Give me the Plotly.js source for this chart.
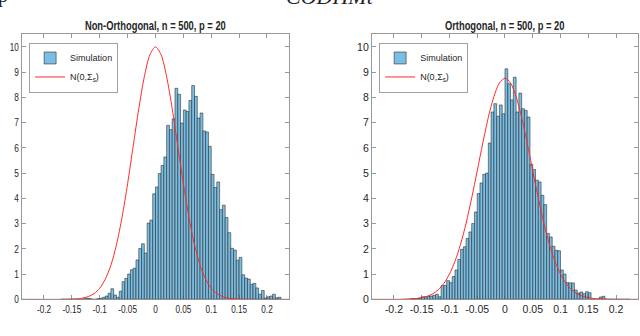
<!DOCTYPE html>
<html>
<head>
<meta charset="utf-8">
<script src="https://cdn.plot.ly/plotly-3.0.1.min.js"></script>
<style>
  html, body { margin: 0; padding: 0; background: #fff; }
  #chart { width: 640px; height: 336px; }
</style>
</head>
<body>
<div id="chart"></div>
<script>
var FONT = "'Liberation Sans', Arial, sans-serif";
var TEXT_COLOR = "#262626";
var SQUEEZE = 0.78; // the source figure is a bit narrower than it is tall

// histogram bin centres (bin width 0.005), shared by both panels
var binCenters = [
  -0.1675, -0.1625, -0.1575, -0.1525, -0.1475, -0.1425, -0.1375, -0.1325, -0.1275, -0.1225,
  -0.1175, -0.1125, -0.1075, -0.1025, -0.0975, -0.0925, -0.0875, -0.0825, -0.0775, -0.0725,
  -0.0675, -0.0625, -0.0575, -0.0525, -0.0475, -0.0425, -0.0375, -0.0325, -0.0275, -0.0225,
  -0.0175, -0.0125, -0.0075, -0.0025, 0.0025, 0.0075, 0.0125, 0.0175, 0.0225, 0.0275,
  0.0325, 0.0375, 0.0425, 0.0475, 0.0525, 0.0575, 0.0625, 0.0675, 0.0725, 0.0775,
  0.0825, 0.0875, 0.0925, 0.0975, 0.1025, 0.1075, 0.1125, 0.1175, 0.1225, 0.1275,
  0.1325, 0.1375, 0.1425, 0.1475, 0.1525, 0.1575, 0.1625, 0.1675, 0.1725, 0.1775,
  0.1825, 0.1875, 0.1925, 0.1975, 0.2025, 0.2075, 0.2125, 0.2175, 0.2225
];

var nonOrthHeights = [
  0, 0, 0, 0, 0, 0, 0, 0, 0.02, 0.04,
  0.03, 0, 0, 0.03, 0.04, 0.08, 0.13, 0.24, 0.42, 0.17,
  0.08, 0.32, 0.7, 0.83, 1.0, 1.17, 1.23, 1.56, 2.01, 2.2,
  1.83, 3.02, 3.14, 4.18, 4.45, 4.98, 5.3, 5.64, 6.89, 6.72,
  7.15, 8.36, 8.12, 6.98, 7.5, 7.44, 7.88, 8.47, 8.04, 7.18,
  7.38, 6.67, 6.63, 6.06, 4.95, 4.43, 4.65, 3.55, 3.73, 3.24,
  2.64, 2.02, 1.95, 1.55, 1.66, 0.97, 0.84, 0.8, 0.6, 0.63,
  0.45, 0.2, 0.35, 0.05, 0.1, 0.13, 0.2, 0.06, 0.08
];

var orthHeights = [
  0.03, 0.03, 0.03, 0.05, 0.1, 0.1, 0.12, 0.13, 0.16, 0.2,
  0.1, 0.55, 0.55, 0.74, 0.66, 0.9, 1.16, 1.58, 1.98, 2.08,
  2.41, 2.67, 3.0, 3.46, 4.19, 4.61, 4.95, 5.0, 6.19, 7.42,
  7.75, 7.25, 7.7, 7.35, 9.13, 8.54, 7.9, 8.8, 7.42, 8.17,
  7.55, 7.48, 7.22, 5.35, 5.14, 4.72, 4.65, 4.12, 3.75, 2.61,
  2.47, 2.1, 1.94, 1.92, 1.16, 1.0, 0.66, 0.65, 0.65, 0.37,
  0.25, 0.29, 0.22, 0.3, 0.26, 0, 0, 0, 0.09, 0.12,
  0, 0, 0, 0, 0, 0, 0, 0, 0
];

// normal density curves
var nonOrthCurveX = [-0.24, -0.16, -0.15, -0.14, -0.13, -0.12, -0.11, -0.1, -0.09, -0.08, -0.07, -0.06, -0.05, -0.04, -0.03, -0.02, -0.01,
  0, 0.01, 0.02, 0.03, 0.04, 0.05, 0.06, 0.07, 0.08, 0.09, 0.1, 0.11, 0.12, 0.13, 0.14, 0.15, 0.16, 0.24];
var nonOrthCurveY = [0, 0, 0.01, 0.02, 0.05, 0.11, 0.23, 0.44, 0.8, 1.35, 2.16, 3.25, 4.58, 6.07, 7.55, 8.82, 9.69,
  10, 9.69, 8.82, 7.55, 6.07, 4.58, 3.25, 2.16, 1.35, 0.8, 0.44, 0.23, 0.11, 0.05, 0.02, 0.01, 0, 0];

var orthCurveX = [-0.24, -0.19, -0.18, -0.17, -0.16, -0.15, -0.14, -0.13, -0.12, -0.11, -0.1, -0.09, -0.08, -0.07, -0.06, -0.05, -0.04, -0.03, -0.02, -0.01,
  0, 0.01, 0.02, 0.03, 0.04, 0.05, 0.06, 0.07, 0.08, 0.09, 0.1, 0.11, 0.12, 0.13, 0.14, 0.15, 0.16, 0.17, 0.18, 0.19, 0.24];
var orthCurveY = [0, 0, 0.01, 0.02, 0.03, 0.07, 0.12, 0.22, 0.38, 0.63, 1.0, 1.51, 2.18, 3.02, 4.01, 5.09, 6.19, 7.21, 8.03, 8.57,
  8.76, 8.57, 8.03, 7.21, 6.19, 5.09, 4.01, 3.02, 2.18, 1.51, 1.0, 0.63, 0.38, 0.22, 0.12, 0.07, 0.03, 0.02, 0.01, 0, 0];

var xTickVals = [-0.2, -0.15, -0.1, -0.05, 0, 0.05, 0.1, 0.15, 0.2];
var xTickText = ["-0.2", "-0.15", "-0.1", "-0.05", "0", "0.05", "0.1", "0.15", "0.2"];
var yTickVals = [0, 1, 2, 3, 4, 5, 6, 7, 8, 9, 10];

var panelTitles = ["Non-Orthogonal, n = 500, p = 20", "Orthogonal, n = 500, p = 20"];
var seriesNames = ["Simulation", "N(0,\u03A3<sub>s</sub>)"];

var BAR_COLOR = "rgb(122,190,228)";
var CURVE_COLOR = "#ff2a2a";

var barTrace = function(heights, xaxis, yaxis, legend) {
  return {
    type: 'bar',
    x: binCenters,
    y: heights,
    width: 0.005,
    xaxis: xaxis,
    yaxis: yaxis,
    legend: legend,
    name: seriesNames[0],
    marker: { color: BAR_COLOR, line: { color: '#222', width: 0.55 } },
    hoverinfo: 'skip'
  };
};

var curveTrace = function(xs, ys, xaxis, yaxis, legend) {
  return {
    type: 'scatter',
    mode: 'lines',
    x: xs,
    y: ys,
    xaxis: xaxis,
    yaxis: yaxis,
    legend: legend,
    name: seriesNames[1],
    line: { color: CURVE_COLOR, width: 1, shape: 'spline', smoothing: 0.8 },
    hoverinfo: 'skip'
  };
};

var axisStyle = {
  ticks: 'inside',
  ticklen: 4,
  tickwidth: 0.6,
  tickcolor: '#555',
  showline: true,
  linecolor: '#808080',
  linewidth: 0.8,
  mirror: 'ticks',
  showgrid: false,
  zeroline: false,
  tickfont: { family: FONT, size: 10.5, color: TEXT_COLOR }
};

var xAxis = function(domain, anchor) {
  return Object.assign({
    domain: domain,
    anchor: anchor,
    range: [-0.24, 0.24],
    tickvals: xTickVals,
    ticktext: xTickText
  }, axisStyle);
};

var yAxis = function(domain, anchor) {
  return Object.assign({
    domain: domain,
    anchor: anchor,
    range: [0, 10.5],
    tickvals: yTickVals
  }, axisStyle);
};

var legendBox = function(x) {
  return {
    x: x,
    y: 0.873,
    xanchor: 'left',
    yanchor: 'top',
    bgcolor: '#fff',
    bordercolor: '#8a8a8a',
    borderwidth: 0.8,
    itemwidth: 30,
    tracegroupgap: 0,
    font: { family: FONT, size: 9, color: TEXT_COLOR }
  };
};

var titleAnnotation = function(text, x) {
  return {
    text: '<b>' + text + '</b>',
    xref: 'paper', yref: 'paper',
    x: x, y: 0.923,
    xanchor: 'center', yanchor: 'middle',
    showarrow: false,
    font: { family: FONT, size: 12, color: TEXT_COLOR }
  };
};

var data = [
  barTrace(nonOrthHeights, 'x', 'y', 'legend'),
  curveTrace(nonOrthCurveX, nonOrthCurveY, 'x', 'y', 'legend'),
  barTrace(orthHeights, 'x2', 'y2', 'legend2'),
  curveTrace(orthCurveX, orthCurveY, 'x2', 'y2', 'legend2')
];

var layout = {
  width: 640,
  height: 336,
  margin: { l: 0, r: 0, t: 0, b: 0 },
  paper_bgcolor: '#fff',
  plot_bgcolor: '#fff',
  showlegend: true,
  barmode: 'overlay',
  xaxis: xAxis([0.0339, 0.452], 'y'),
  yaxis: yAxis([0.1092, 0.898], 'x'),
  xaxis2: xAxis([0.5808, 0.9973], 'y2'),
  yaxis2: yAxis([0.1092, 0.898], 'x2'),
  legend: legendBox(0.0458),
  legend2: legendBox(0.5927),
  annotations: [
    titleAnnotation(panelTitles[0], 0.243),
    titleAnnotation(panelTitles[1], 0.789),
    // clipped text from the page above the figure
    { text: 'p', xref: 'paper', yref: 'paper', x: 0, y: 1, xanchor: 'left', yanchor: 'middle', xshift: -4, yshift: 5,
      showarrow: false, font: { family: 'Liberation Serif', size: 20, color: '#222' } },
    { text: '<i>CODHMt</i>', xref: 'paper', yref: 'paper', x: 0.443, y: 1, xanchor: 'left', yanchor: 'middle', yshift: 4,
      showarrow: false, font: { family: 'Liberation Serif', size: 22, color: '#222' } }
  ]
};

// narrow the label glyphs like the original export
var squeezeText = function(nodes) {
  Array.from(nodes).forEach(function(node) {
    var len = node.getComputedTextLength();
    if (len > 0) {
      node.setAttribute('textLength', (len * SQUEEZE).toFixed(1));
      node.setAttribute('lengthAdjust', 'spacingAndGlyphs');
    }
  });
};

var chart = document.getElementById('chart');
Plotly.newPlot(chart, data, layout, { displayModeBar: false, staticPlot: true }).then(function(gd) {
  squeezeText(gd.querySelectorAll('.xtick text, .ytick text'));
  var titles = Array.from(gd.querySelectorAll('.annotation-text')).filter(function(node) {
    return node.textContent.indexOf('n = 500') >= 0;
  });
  squeezeText(titles);
});
</script>
</body>
</html>
